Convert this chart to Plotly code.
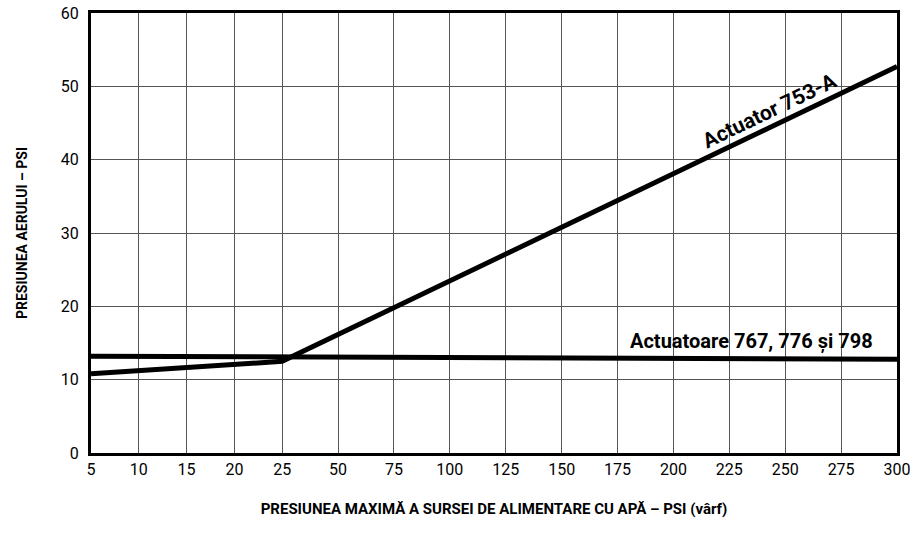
import plotly.graph_objects as go

# ---- data ----
x_ticks = [5, 10, 15, 20, 25, 50, 75, 100, 125, 150, 175, 200, 225, 250, 275, 300]
y_ticks = [0, 10, 20, 30, 40, 50, 60]

act753_x = [5, 25, 300]
act753_y = [10.8, 12.5, 52.7]

act767_x = [5, 300]
act767_y = [13.2, 12.8]

# ---- piecewise x scale (5–25 compressed segment, then 25-psi steps) ----
SEG1_SPAN = 3.42  # width of 5..25 segment measured in 25-psi steps


def xscale(v):
    if v <= 25:
        return (v - 5) / 20 * SEG1_SPAN
    return SEG1_SPAN + (v - 25) / 25


FONT = "Roboto, sans-serif"

fig = go.Figure()
fig.add_trace(go.Scatter(x=[xscale(v) for v in act767_x], y=act767_y, mode="lines",
                         line=dict(color="black", width=5), showlegend=False, hoverinfo="skip"))
fig.add_trace(go.Scatter(x=[xscale(v) for v in act753_x], y=act753_y, mode="lines",
                         line=dict(color="black", width=5), showlegend=False, hoverinfo="skip"))

fig.add_annotation(x=xscale(243), y=46.6, xref="x", yref="y", text="<b>Actuator 753-A</b>",
                   showarrow=False, textangle=-25.6, font=dict(family=FONT, size=21, color="black"))
fig.add_annotation(x=xscale(235), y=15.2, xref="x", yref="y", text="<b>Actuatoare 767, 776 și 798</b>",
                   showarrow=False, font=dict(family=FONT, size=20, color="black"))

fig.update_xaxes(range=[xscale(5), xscale(300)], tickmode="array",
                 tickvals=[xscale(v) for v in x_ticks], ticktext=[str(v) for v in x_ticks],
                 showgrid=True, gridcolor="#555555", gridwidth=1, zeroline=False,
                 showline=True, linecolor="black", linewidth=3, mirror=True,
                 ticks="", ticklen=0, automargin=False,
                 tickfont=dict(family=FONT, size=16, color="black"),
                 title=dict(text="<b>PRESIUNEA MAXIMĂ A SURSEI DE ALIMENTARE CU APĂ – PSI (vârf)</b>",
                            font=dict(family=FONT, size=15, color="black"), standoff=26))
fig.update_yaxes(range=[0, 60], tickmode="array", tickvals=y_ticks,
                 showgrid=True, gridcolor="#555555", gridwidth=1, zeroline=False,
                 showline=True, linecolor="black", linewidth=3, mirror=True,
                 ticks="", automargin=False, ticklabelstandoff=6,
                 tickfont=dict(family=FONT, size=16, color="black"),
                 title=dict(text="<b>PRESIUNEA AERULUI – PSI</b>",
                            font=dict(family=FONT, size=14, color="black"), standoff=30))

fig.update_layout(width=920, height=547, margin=dict(l=91, r=23, t=13, b=94),
                  plot_bgcolor="white", paper_bgcolor="white")

fig.write_html("out.html", config={"displayModeBar": False},
               post_script="document.body.style.margin='0';")
